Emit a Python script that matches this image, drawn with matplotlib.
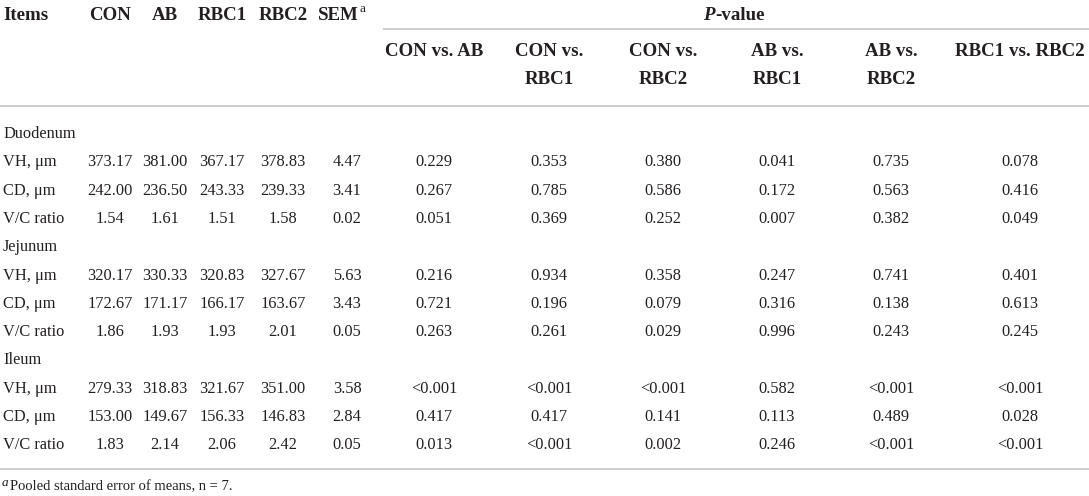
import matplotlib
matplotlib.use("Agg")
import matplotlib.pyplot as plt

# ---- data ----
segments = ["Duodenum", "Jejunum", "Ileum"]
items = ["VH, μm", "CD, μm", "V/C ratio"]
groups = ["CON", "AB", "RBC1", "RBC2"]
con = [373.17, 242.00, 1.54, 320.17, 172.67, 1.86, 279.33, 153.00, 1.83]
ab = [381.00, 236.50, 1.61, 330.33, 171.17, 1.93, 318.83, 149.67, 2.14]
rbc1 = [367.17, 243.33, 1.51, 320.83, 166.17, 1.93, 321.67, 156.33, 2.06]
rbc2 = [378.83, 239.33, 1.58, 327.67, 163.67, 2.01, 351.00, 146.83, 2.42]
sem = [4.47, 3.41, 0.02, 5.63, 3.43, 0.05, 3.58, 2.84, 0.05]
comparisons = [("CON vs. AB", ""), ("CON vs.", "RBC1"), ("CON vs.", "RBC2"),
               ("AB vs.", "RBC1"), ("AB vs.", "RBC2"), ("RBC1 vs. RBC2", "")]
p_con_ab = ["0.229", "0.267", "0.051", "0.216", "0.721", "0.263", "<0.001", "0.417", "0.013"]
p_con_rbc1 = ["0.353", "0.785", "0.369", "0.934", "0.196", "0.261", "<0.001", "0.417", "<0.001"]
p_con_rbc2 = ["0.380", "0.586", "0.252", "0.358", "0.079", "0.029", "<0.001", "0.141", "0.002"]
p_ab_rbc1 = ["0.041", "0.172", "0.007", "0.247", "0.316", "0.996", "0.582", "0.113", "0.246"]
p_ab_rbc2 = ["0.735", "0.563", "0.382", "0.741", "0.138", "0.243", "<0.001", "0.489", "<0.001"]
p_rbc1_rbc2 = ["0.078", "0.416", "0.049", "0.401", "0.613", "0.245", "<0.001", "0.028", "<0.001"]
footnote = "Pooled standard error of means, n = 7."

# ---- layout ----
W, H = 1089, 496
fig = plt.figure(figsize=(W / 100, H / 100), dpi=100)
ax = fig.add_axes([0, 0, 1, 1])
ax.set_xlim(0, W)
ax.set_ylim(H, 0)
ax.axis("off")

FONT = "Liberation Serif"
TC = "#231f20"
HS = 13.6   # header font size
BS = 11.8   # body font size
LC = "#c9c9c9"

def txt(x, y, s, size=BS, weight="normal", ha="center", style="normal"):
    ax.text(x, y, s, fontsize=size, fontweight=weight, ha=ha, va="center_baseline",
            family=FONT, color=TC, fontstyle=style)

# header
txt(3, 13, "Items", HS, "bold", ha="left")
gx = [110, 165, 222, 283]
for x, g in zip(gx, groups):
    txt(x, 13, g, HS, "bold")
txt(359, 13, "SEM", HS, "bold", ha="right")
txt(360, 7, "a", 9.5, ha="left")
txt(715, 13, "P", HS, "bold", ha="right", style="italic")
txt(715, 13, "-value", HS, "bold", ha="left")

px = [434, 549, 663, 777, 891, 1020]
for x, (l1, l2) in zip(px, comparisons):
    txt(x, 49, l1, HS, "bold")
    if l2:
        txt(x, 77, l2, HS, "bold")

# rules
ax.plot([383, W], [29, 29], color=LC, lw=1.3, solid_capstyle="butt")
ax.plot([0, W], [106, 106], color=LC, lw=1.3, solid_capstyle="butt")
ax.plot([0, W], [469, 469], color=LC, lw=1.3, solid_capstyle="butt")

# body
row_h = 28.3
y0 = 132
pcols = [p_con_ab, p_con_rbc1, p_con_rbc2, p_ab_rbc1, p_ab_rbc2, p_rbc1_rbc2]
vcols = [con, ab, rbc1, rbc2]
r = 0
k = 0
for seg in segments:
    txt(3, y0 + r * row_h, seg, ha="left")
    r += 1
    for it in items:
        y = y0 + r * row_h
        txt(3, y, it, ha="left")
        for x, col in zip(gx, vcols):
            txt(x, y, f"{col[k]:.2f}")
        txt(347, y, f"{sem[k]:.2f}")
        for x, col in zip(px, pcols):
            txt(x, y, col[k])
        r += 1
        k += 1

# footnote
txt(2, 481, "a", 9.5, ha="left", style="italic")
txt(10, 485, footnote, 10.5, ha="left")

fig.savefig("out.png", dpi=100)
